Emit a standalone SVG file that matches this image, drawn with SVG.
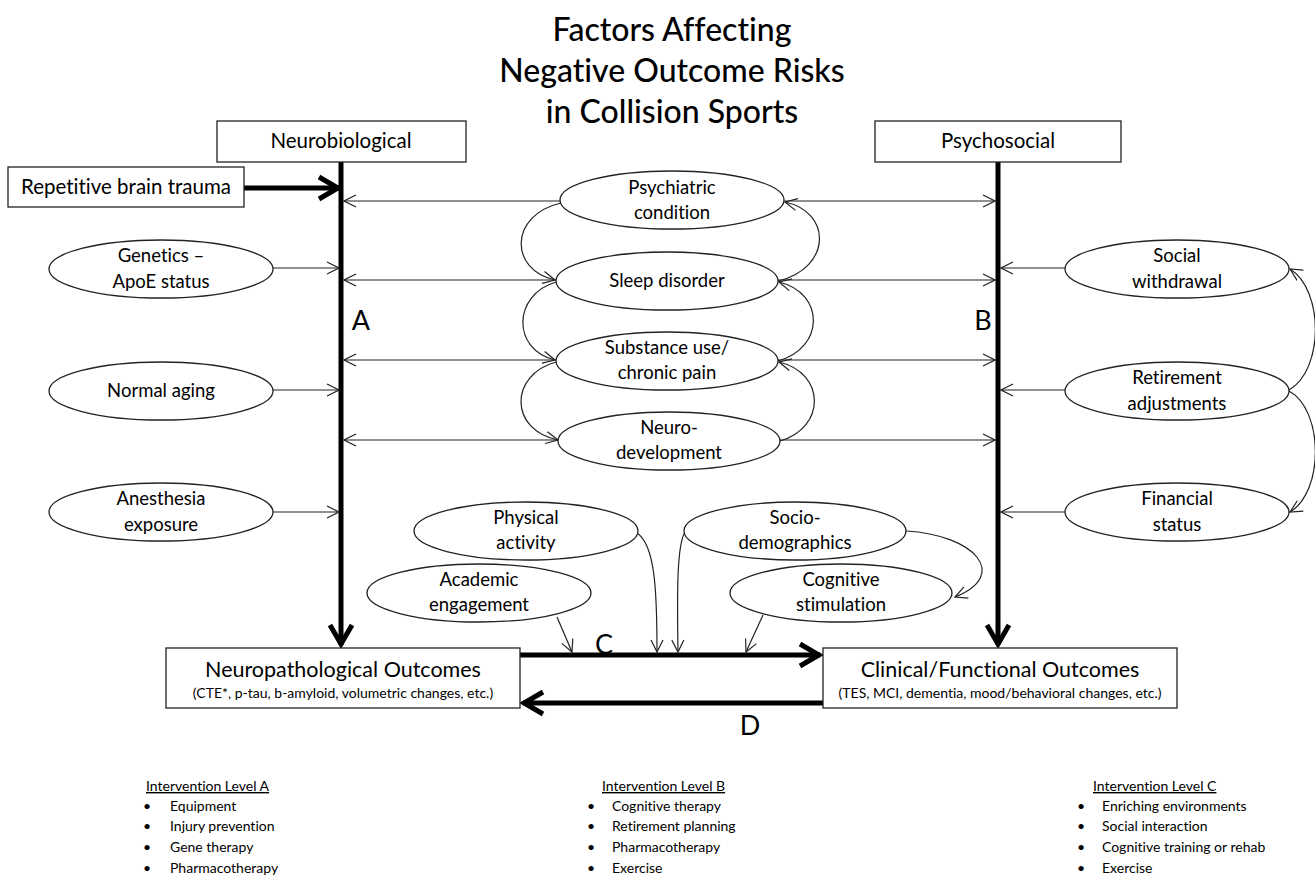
<svg xmlns="http://www.w3.org/2000/svg" width="1315" height="876" viewBox="0 0 1315 876">
<style>
text{font-family:Lato,"Carlito","Open Sans","Liberation Sans",sans-serif;fill:#000;font-variant-ligatures:none}
.t{font-size:32px;text-anchor:middle;font-weight:500}
.bx{font-size:20.5px;text-anchor:middle}
.ob{font-size:21.5px;text-anchor:middle}
.el{font-size:18.5px;text-anchor:middle}
.sub{font-size:14px;text-anchor:middle}
.lbl{font-size:27px;text-anchor:middle}
.li{font-size:14px}
.hd{font-size:14px;text-decoration:underline}
.shape{fill:#fff;stroke:#222;stroke-width:1.3}
.thin{fill:none;stroke:#222;stroke-width:1.2;marker-end:url(#ah)}
.thick{fill:none;stroke:#000;stroke-width:5;marker-end:url(#ahk)}
</style>
<defs>
<marker id="ah" viewBox="0 0 14 14" refX="13" refY="7" markerWidth="14" markerHeight="14" markerUnits="userSpaceOnUse" orient="auto">
<path d="M1,1 L13,7 L1,13" fill="none" stroke="#222" stroke-width="1.2"/>
</marker>
<marker id="ahk" viewBox="0 0 26 28" refX="23" refY="14" markerWidth="26" markerHeight="28" markerUnits="userSpaceOnUse" orient="auto">
<path d="M3,3 L22,14 L3,25" fill="none" stroke="#000" stroke-width="5" stroke-linejoin="miter"/>
</marker>
</defs>
<rect width="1315" height="876" fill="#fff"/>

<g id="title">
<text class="t" x="672" y="41">Factors Affecting</text>
<text class="t" x="672" y="82">Negative Outcome Risks</text>
<text class="t" x="672" y="123">in Collision Sports</text>
</g>

<g id="connectors">
<path class="thick" d="M341,162 V645"/>
<path class="thick" d="M998,162 V645"/>
<path class="thick" d="M244,188 H339"/>
<path class="thick" d="M520,655 H820"/>
<path class="thick" d="M823,703 H523"/>
<path class="thin" d="M273,268 H339"/>
<path class="thin" d="M273,390 H339"/>
<path class="thin" d="M273,512 H339"/>
<path class="thin" d="M1065,268 H1001"/>
<path class="thin" d="M1065,390 H1001"/>
<path class="thin" d="M1065,512 H1001"/>
<path class="thin" d="M561,201 H344"/>
<path class="thin" d="M556,280 H344"/>
<path class="thin" d="M556,360 H344"/>
<path class="thin" d="M558,440 H344"/>
<path class="thin" d="M784,201 H995"/>
<path class="thin" d="M778,280 H995"/>
<path class="thin" d="M778,360 H995"/>
<path class="thin" d="M780,440 H995"/>
<path class="thin" d="M561,203 C509,215 509,270 555,280"/>
<path class="thin" d="M556,282 C512,295 512,350 555,360"/>
<path class="thin" d="M556,362 C509,375 509,430 558,440"/>
<path class="thin" d="M778,281 C832,268 832,212 785,202"/>
<path class="thin" d="M778,361 C825,348 825,293 779,282"/>
<path class="thin" d="M780,441 C826,428 826,373 779,362"/>
<path class="thin" d="M1289,390 C1324,370 1324,290 1290,269"/>
<path class="thin" d="M1289,391 C1324,410 1324,492 1290,512"/>
<path class="thin" d="M637,533 C655,545 657,590 657,652"/>
<path class="thin" d="M685,532 C677,545 677,590 678,652"/>
<path class="thin" d="M906,531 C975,535 1010,575 955,597"/>
<path class="thin" d="M557,617 L572,652"/>
<path class="thin" d="M763,615 L746,652"/>
</g>

<g id="labels">
<text class="lbl" x="361" y="330">A</text>
<text class="lbl" x="983" y="330">B</text>
<text class="lbl" x="604" y="654">C</text>
<text class="lbl" x="750" y="735">D</text>
</g>

<g id="neurobiological">
<rect class="shape" x="217" y="121" width="249" height="41"/>
<text class="bx" x="341" y="148">Neurobiological</text>
</g>
<g id="psychosocial">
<rect class="shape" x="875" y="121" width="246" height="41"/>
<text class="bx" x="998" y="148">Psychosocial</text>
</g>
<g id="repetitive-brain-trauma">
<rect class="shape" x="8" y="167" width="236" height="40"/>
<text class="bx" x="126" y="194">Repetitive brain trauma</text>
</g>

<g id="genetics">
<ellipse class="shape" cx="161" cy="269" rx="112" ry="29"/>
<text class="el" x="161" y="262">Genetics –</text>
<text class="el" x="161" y="288">ApoE status</text>
</g>
<g id="normal-aging">
<ellipse class="shape" cx="161" cy="391" rx="112" ry="29"/>
<text class="el" x="161" y="397">Normal aging</text>
</g>
<g id="anesthesia">
<ellipse class="shape" cx="161" cy="512" rx="112" ry="29"/>
<text class="el" x="161" y="505">Anesthesia</text>
<text class="el" x="161" y="531">exposure</text>
</g>

<g id="psychiatric">
<ellipse class="shape" cx="672" cy="200" rx="112" ry="29"/>
<text class="el" x="672" y="194">Psychiatric</text>
<text class="el" x="672" y="219">condition</text>
</g>
<g id="sleep">
<ellipse class="shape" cx="667" cy="281" rx="111" ry="29"/>
<text class="el" x="667" y="287">Sleep disorder</text>
</g>
<g id="substance">
<ellipse class="shape" cx="667" cy="361" rx="111" ry="29"/>
<text class="el" x="667" y="354">Substance use/</text>
<text class="el" x="667" y="379">chronic pain</text>
</g>
<g id="neurodevelopment">
<ellipse class="shape" cx="669" cy="441" rx="111" ry="29"/>
<text class="el" x="669" y="434">Neuro-</text>
<text class="el" x="669" y="459">development</text>
</g>

<g id="social-withdrawal">
<ellipse class="shape" cx="1177" cy="269" rx="112" ry="29"/>
<text class="el" x="1177" y="262">Social</text>
<text class="el" x="1177" y="288">withdrawal</text>
</g>
<g id="retirement">
<ellipse class="shape" cx="1177" cy="391" rx="112" ry="29"/>
<text class="el" x="1177" y="384">Retirement</text>
<text class="el" x="1177" y="410">adjustments</text>
</g>
<g id="financial">
<ellipse class="shape" cx="1177" cy="512" rx="112" ry="29"/>
<text class="el" x="1177" y="505">Financial</text>
<text class="el" x="1177" y="531">status</text>
</g>

<g id="physical-activity">
<ellipse class="shape" cx="526" cy="531" rx="112" ry="29"/>
<text class="el" x="526" y="524">Physical</text>
<text class="el" x="526" y="549">activity</text>
</g>
<g id="sociodemographics">
<ellipse class="shape" cx="795" cy="531" rx="111" ry="29"/>
<text class="el" x="795" y="524">Socio-</text>
<text class="el" x="795" y="549">demographics</text>
</g>
<g id="academic">
<ellipse class="shape" cx="479" cy="593" rx="112" ry="29"/>
<text class="el" x="479" y="586">Academic</text>
<text class="el" x="479" y="611">engagement</text>
</g>
<g id="cognitive-stimulation">
<ellipse class="shape" cx="841" cy="593" rx="111" ry="29"/>
<text class="el" x="841" y="586">Cognitive</text>
<text class="el" x="841" y="611">stimulation</text>
</g>

<g id="neuropathological">
<rect class="shape" x="166" y="648" width="354" height="60"/>
<text class="ob" x="343" y="677">Neuropathological Outcomes</text>
<text class="sub" x="343" y="698">(CTE*, p-tau, b-amyloid, volumetric changes, etc.)</text>
</g>
<g id="clinical">
<rect class="shape" x="823" y="648" width="354" height="60"/>
<text class="ob" x="1000" y="677">Clinical/Functional Outcomes</text>
<text class="sub" x="1000" y="698">(TES, MCI, dementia, mood/behavioral changes, etc.)</text>
</g>

<g id="intervention-a">
<text class="hd" x="146" y="791">Intervention Level A</text>
<text class="li" x="143" y="811">•</text><text class="li" x="170" y="811">Equipment</text>
<text class="li" x="143" y="831">•</text><text class="li" x="170" y="831">Injury prevention</text>
<text class="li" x="143" y="852">•</text><text class="li" x="170" y="852">Gene therapy</text>
<text class="li" x="143" y="873">•</text><text class="li" x="170" y="873">Pharmacotherapy</text>
</g>
<g id="intervention-b">
<text class="hd" x="602" y="791">Intervention Level B</text>
<text class="li" x="587" y="811">•</text><text class="li" x="612" y="811">Cognitive therapy</text>
<text class="li" x="587" y="831">•</text><text class="li" x="612" y="831">Retirement planning</text>
<text class="li" x="587" y="852">•</text><text class="li" x="612" y="852">Pharmacotherapy</text>
<text class="li" x="587" y="873">•</text><text class="li" x="612" y="873">Exercise</text>
</g>
<g id="intervention-c">
<text class="hd" x="1093" y="791">Intervention Level C</text>
<text class="li" x="1077" y="811">•</text><text class="li" x="1102" y="811">Enriching environments</text>
<text class="li" x="1077" y="831">•</text><text class="li" x="1102" y="831">Social interaction</text>
<text class="li" x="1077" y="852">•</text><text class="li" x="1102" y="852">Cognitive training or rehab</text>
<text class="li" x="1077" y="873">•</text><text class="li" x="1102" y="873">Exercise</text>
</g>
</svg>
